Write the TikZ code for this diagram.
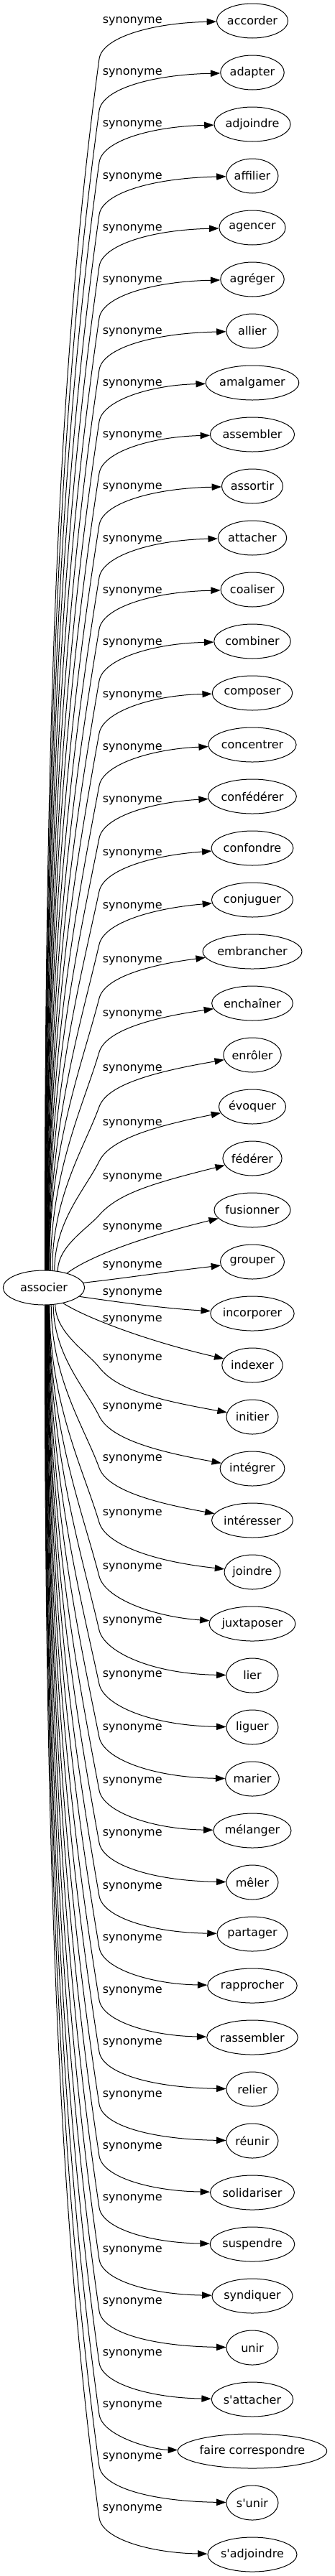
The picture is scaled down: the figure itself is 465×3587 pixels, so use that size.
\documentclass[tikz,border=0pt]{standalone}
\usepackage{fontspec}
\newfontfamily\djv{DejaVu Sans}
\usetikzlibrary{arrows.meta,shapes.geometric,calc}
\newcommand\tfont{\djv\fontsize{12pt}{14pt}\selectfont}
\newlength\wlen
\tikzset{
  tgt/.style={ellipse, draw, line width=0.75pt, minimum height=36pt, inner sep=0pt, font=\tfont},
  lbl/.style={font=\tfont, inner sep=0pt},
  edge/.style={line width=0.75pt, -{Triangle[length=10pt,width=7pt]}},
}
\newcommand\tgtnode[2]{%
  \settowidth{\wlen}{\tfont #2}%
  \pgfmathsetmacro\ew{max(54,1.22*\wlen+26)}%
  \pgfmathsetmacro\ny{29+72*(#1-1)}%
  \node[tgt, minimum width=\ew pt] (t#1) at (351,\ny) {#2};%
}
\newcommand\topedge[4]{%
  \pgfmathsetmacro\ny{29+72*(#1-1)}%
  \pgfmathsetmacro\eB{#3+52}%
  \pgfmathsetmacro\eD{1769-\eB}%
  \pgfmathsetmacro\eS{0.1+60/\eD}%
  \pgfmathsetmacro\eL{0.25*\eD}%
  \pgfmathsetmacro\eA{0.45*\eD}%
  \pgfmathsetmacro\ePx{138-\eL*\eS}%
  \pgfmathsetmacro\ePy{\eB+\eL}%
  \pgfmathsetmacro\eCx{138+30*\eS}%
  \pgfmathsetmacro\eCy{\eB-30}%
  \pgfmathsetmacro\eEy{\ny+#4}%
  \draw[edge] (associer.#2) .. controls ($(associer.#2)+(0,-\eA)$) and (\ePx,\ePy) .. (138,\eB) .. controls (\eCx,\eCy) and (211,\eEy) .. (t#1);%
  \node[lbl] (l#1) at (184.2,#3) {synonyme};%
}
\newcommand\botedge[4]{%
  \pgfmathsetmacro\ny{29+72*(#1-1)}%
  \pgfmathsetmacro\eB{#3+12}%
  \pgfmathsetmacro\eD{\eB-1817}%
  \pgfmathsetmacro\eS{0.1+60/\eD}%
  \pgfmathsetmacro\eL{0.25*\eD}%
  \pgfmathsetmacro\eA{0.45*\eD}%
  \pgfmathsetmacro\ePx{138-\eL*\eS}%
  \pgfmathsetmacro\ePy{\eB-\eL}%
  \pgfmathsetmacro\eCx{138+30*\eS}%
  \pgfmathsetmacro\eCy{\eB+30}%
  \pgfmathsetmacro\eEy{\ny-#4}%
  \draw[edge] (associer.#2) .. controls ($(associer.#2)+(0,\eA)$) and (\ePx,\ePy) .. (138,\eB) .. controls (\eCx,\eCy) and (211,\eEy) .. (t#1);%
  \node[lbl] (l#1) at (184.2,#3) {synonyme};%
}
\begin{document}
\begin{tikzpicture}[x=0.75pt,y=-0.75pt]
\useasboundingbox (0,0) rectangle (465,3587);
\node[tgt, minimum width=85pt] (associer) at (61,1793) {associer};
\tgtnode{1}{accorder}
\tgtnode{2}{adapter}
\tgtnode{3}{adjoindre}
\tgtnode{4}{affilier}
\tgtnode{5}{agencer}
\tgtnode{6}{agréger}
\tgtnode{7}{allier}
\tgtnode{8}{amalgamer}
\tgtnode{9}{assembler}
\tgtnode{10}{assortir}
\tgtnode{11}{attacher}
\tgtnode{12}{coaliser}
\tgtnode{13}{combiner}
\tgtnode{14}{composer}
\tgtnode{15}{concentrer}
\tgtnode{16}{confédérer}
\tgtnode{17}{confondre}
\tgtnode{18}{conjuguer}
\tgtnode{19}{embrancher}
\tgtnode{20}{enchaîner}
\tgtnode{21}{enrôler}
\tgtnode{22}{évoquer}
\tgtnode{23}{fédérer}
\tgtnode{24}{fusionner}
\tgtnode{25}{grouper}
\tgtnode{26}{incorporer}
\tgtnode{27}{indexer}
\tgtnode{28}{initier}
\tgtnode{29}{intégrer}
\tgtnode{30}{intéresser}
\tgtnode{31}{joindre}
\tgtnode{32}{juxtaposer}
\tgtnode{33}{lier}
\tgtnode{34}{liguer}
\tgtnode{35}{marier}
\tgtnode{36}{mélanger}
\tgtnode{37}{mêler}
\tgtnode{38}{partager}
\tgtnode{39}{rapprocher}
\tgtnode{40}{rassembler}
\tgtnode{41}{relier}
\tgtnode{42}{réunir}
\tgtnode{43}{solidariser}
\tgtnode{44}{suspendre}
\tgtnode{45}{syndiquer}
\tgtnode{46}{unir}
\tgtnode{47}{s'attacher}
\tgtnode{48}{faire correspondre}
\tgtnode{49}{s'unir}
\tgtnode{50}{s'adjoindre}
\foreach \k/\a/\y/\e in {1/87.6/30/3, 2/86.8/102/3, 3/85.9/174/3, 4/85.1/247/3, 5/84.3/319/3, 6/83.5/391/3, 7/82.6/463/3, 8/81.8/535/3, 9/81.0/607/3, 10/80.2/679/3, 11/79.4/752/3, 12/78.6/824/3, 13/77.8/896/3, 14/77.0/969/3, 15/76.2/1042/6, 16/75.4/1115/8, 17/74.6/1189/10, 18/73.8/1263/12, 19/73.1/1338/18, 20/69/1413/20, 21/64/1489/24, 22/58/1565/28, 23/50/1640/35}
  {\topedge{\k}{\a}{\y}{\e}}
\draw[edge] (associer.32) .. controls (125,1749) and (200,1722) .. (t24);
\node[lbl] (l24) at (184.2,1710) {synonyme};
\draw[edge] (associer.7) .. controls (180,1779) and (230,1771) .. (t25);
\node[lbl] (l25) at (184.2,1763) {synonyme};
\draw[edge] (associer.-14) .. controls (170,1814) and (230,1822) .. (t26);
\node[lbl] (l26) at (184.2,1801) {synonyme};
\draw[edge] (associer.-39) .. controls (125,1838) and (215,1870) .. (t27);
\node[lbl] (l27) at (184.2,1838) {synonyme};
\foreach \k/\a/\y/\e in {28/-56/1892/25, 29/-61/1960/25, 30/-67/2032/25, 31/-72.3/2108/15, 32/-73.1/2183/10, 33/-73.8/2258/2, 34/-74.6/2333/2, 35/-75.4/2407/2, 36/-76.2/2481/2, 37/-77.0/2554/2, 38/-77.8/2628/2, 39/-78.6/2700/2, 40/-79.4/2773/2, 41/-80.2/2845/2, 42/-81.0/2918/2, 43/-81.8/2990/2, 44/-82.6/3062/2, 45/-83.5/3134/2, 46/-84.3/3206/2, 47/-85.1/3278/2, 48/-85.9/3350/2, 49/-86.8/3422/2, 50/-87.6/3494/2}
  {\botedge{\k}{\a}{\y}{\e}}
\end{tikzpicture}
\end{document}
